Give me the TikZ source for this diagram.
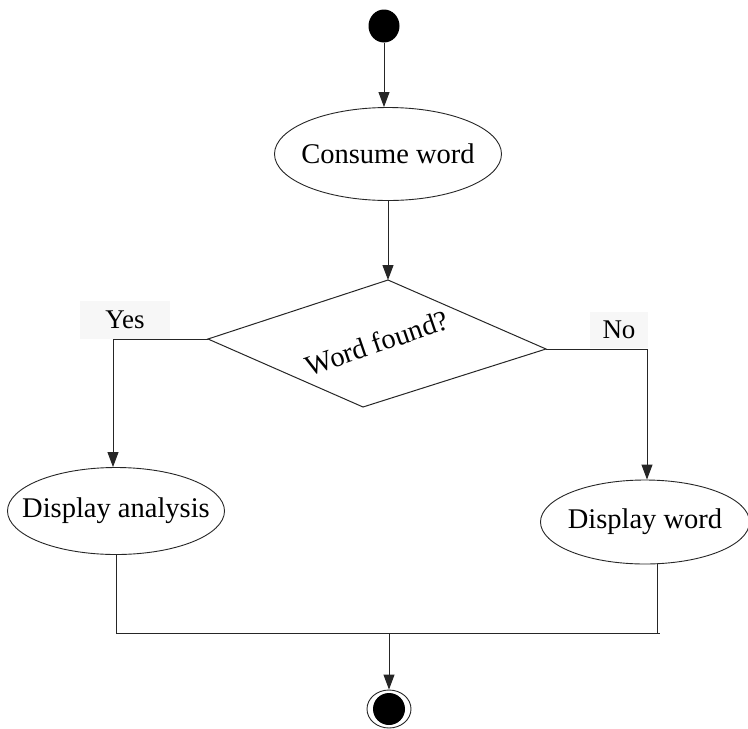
\documentclass[tikz,border=0pt]{standalone}
\usepackage{fontspec}
\setmainfont{Liberation Serif}
\usetikzlibrary{shapes.geometric,arrows.meta}
\begin{document}
\begin{tikzpicture}[x=1pt,y=-1pt,
  flow/.style={draw=black!85, line width=1pt},
  arrow/.style={flow, -{Triangle[length=15pt,width=11pt]}},
  action/.style={ellipse, draw=black!85, line width=0.9pt, fill=white,
    inner xsep=-40pt, inner ysep=-12pt,
    font=\fontsize{28.5}{32}\selectfont},
  guard/.style={fill=black!3, inner sep=0pt, font=\fontsize{27}{30}\selectfont},
]
\useasboundingbox (0,0) rectangle (748,729);

% guard label backgrounds
\node[guard, minimum width=90pt, minimum height=38pt] (yes) at (125,320) {Yes};
\node[guard, minimum width=58pt, minimum height=36pt] (no) at (619,330) {No};

% initial state and first action
\node[ellipse, fill=black, minimum width=31pt, minimum height=33pt, inner sep=0pt] (start) at (384,26) {};
\node[action, minimum width=227pt, minimum height=93pt] (consume) at (388,154) {Consume word};

% decision
\coordinate (dt) at (388,280);
\coordinate (dl) at (208,339);
\coordinate (dr) at (546,349);
\coordinate (db) at (363,407);
\draw[flow, fill=white] (dt) -- (dr) -- (db) -- (dl) -- cycle;
\node[rotate=19, inner sep=0pt, font=\fontsize{28.5}{32}\selectfont] (cond) at (377,343) {Word found?};

% branch actions
\node[action, minimum width=217pt, minimum height=87pt] (analysis) at (116,511) {Display analysis};
\node[action, minimum width=209pt, minimum height=84pt] (word) at (645,522) {Display word};

% final state
\node[ellipse, draw=black!85, line width=0.9pt, minimum width=44pt, minimum height=38pt, inner sep=0pt] (stop) at (389,709) {};
\node[circle, fill=black, minimum size=32pt, inner sep=0pt] (stopcore) at (stop.center) {};

% routing points
\coordinate (ycorner) at (113,339);
\coordinate (ncorner) at (647,349);
\coordinate (jl) at (116,633);
\coordinate (jr) at (660,633);
\coordinate (jrv) at (657,633);
\coordinate (jm) at (389,633);

% connectors
\draw[arrow] (start.south) -- (start.south |- consume.north);
\draw[arrow] (consume.south) -- (dt);
\draw[arrow] (dl) -- (ycorner) -- (ycorner |- analysis.north);
\draw[arrow] (dr) -- (ncorner) -- (ncorner |- word.north);
\draw[flow] (analysis.south) -- (jl) -- (jr);
\draw[flow] (jrv |- word.south) -- (jrv);
\draw[arrow] (jm) -- (stop.north);
\end{tikzpicture}
\end{document}
